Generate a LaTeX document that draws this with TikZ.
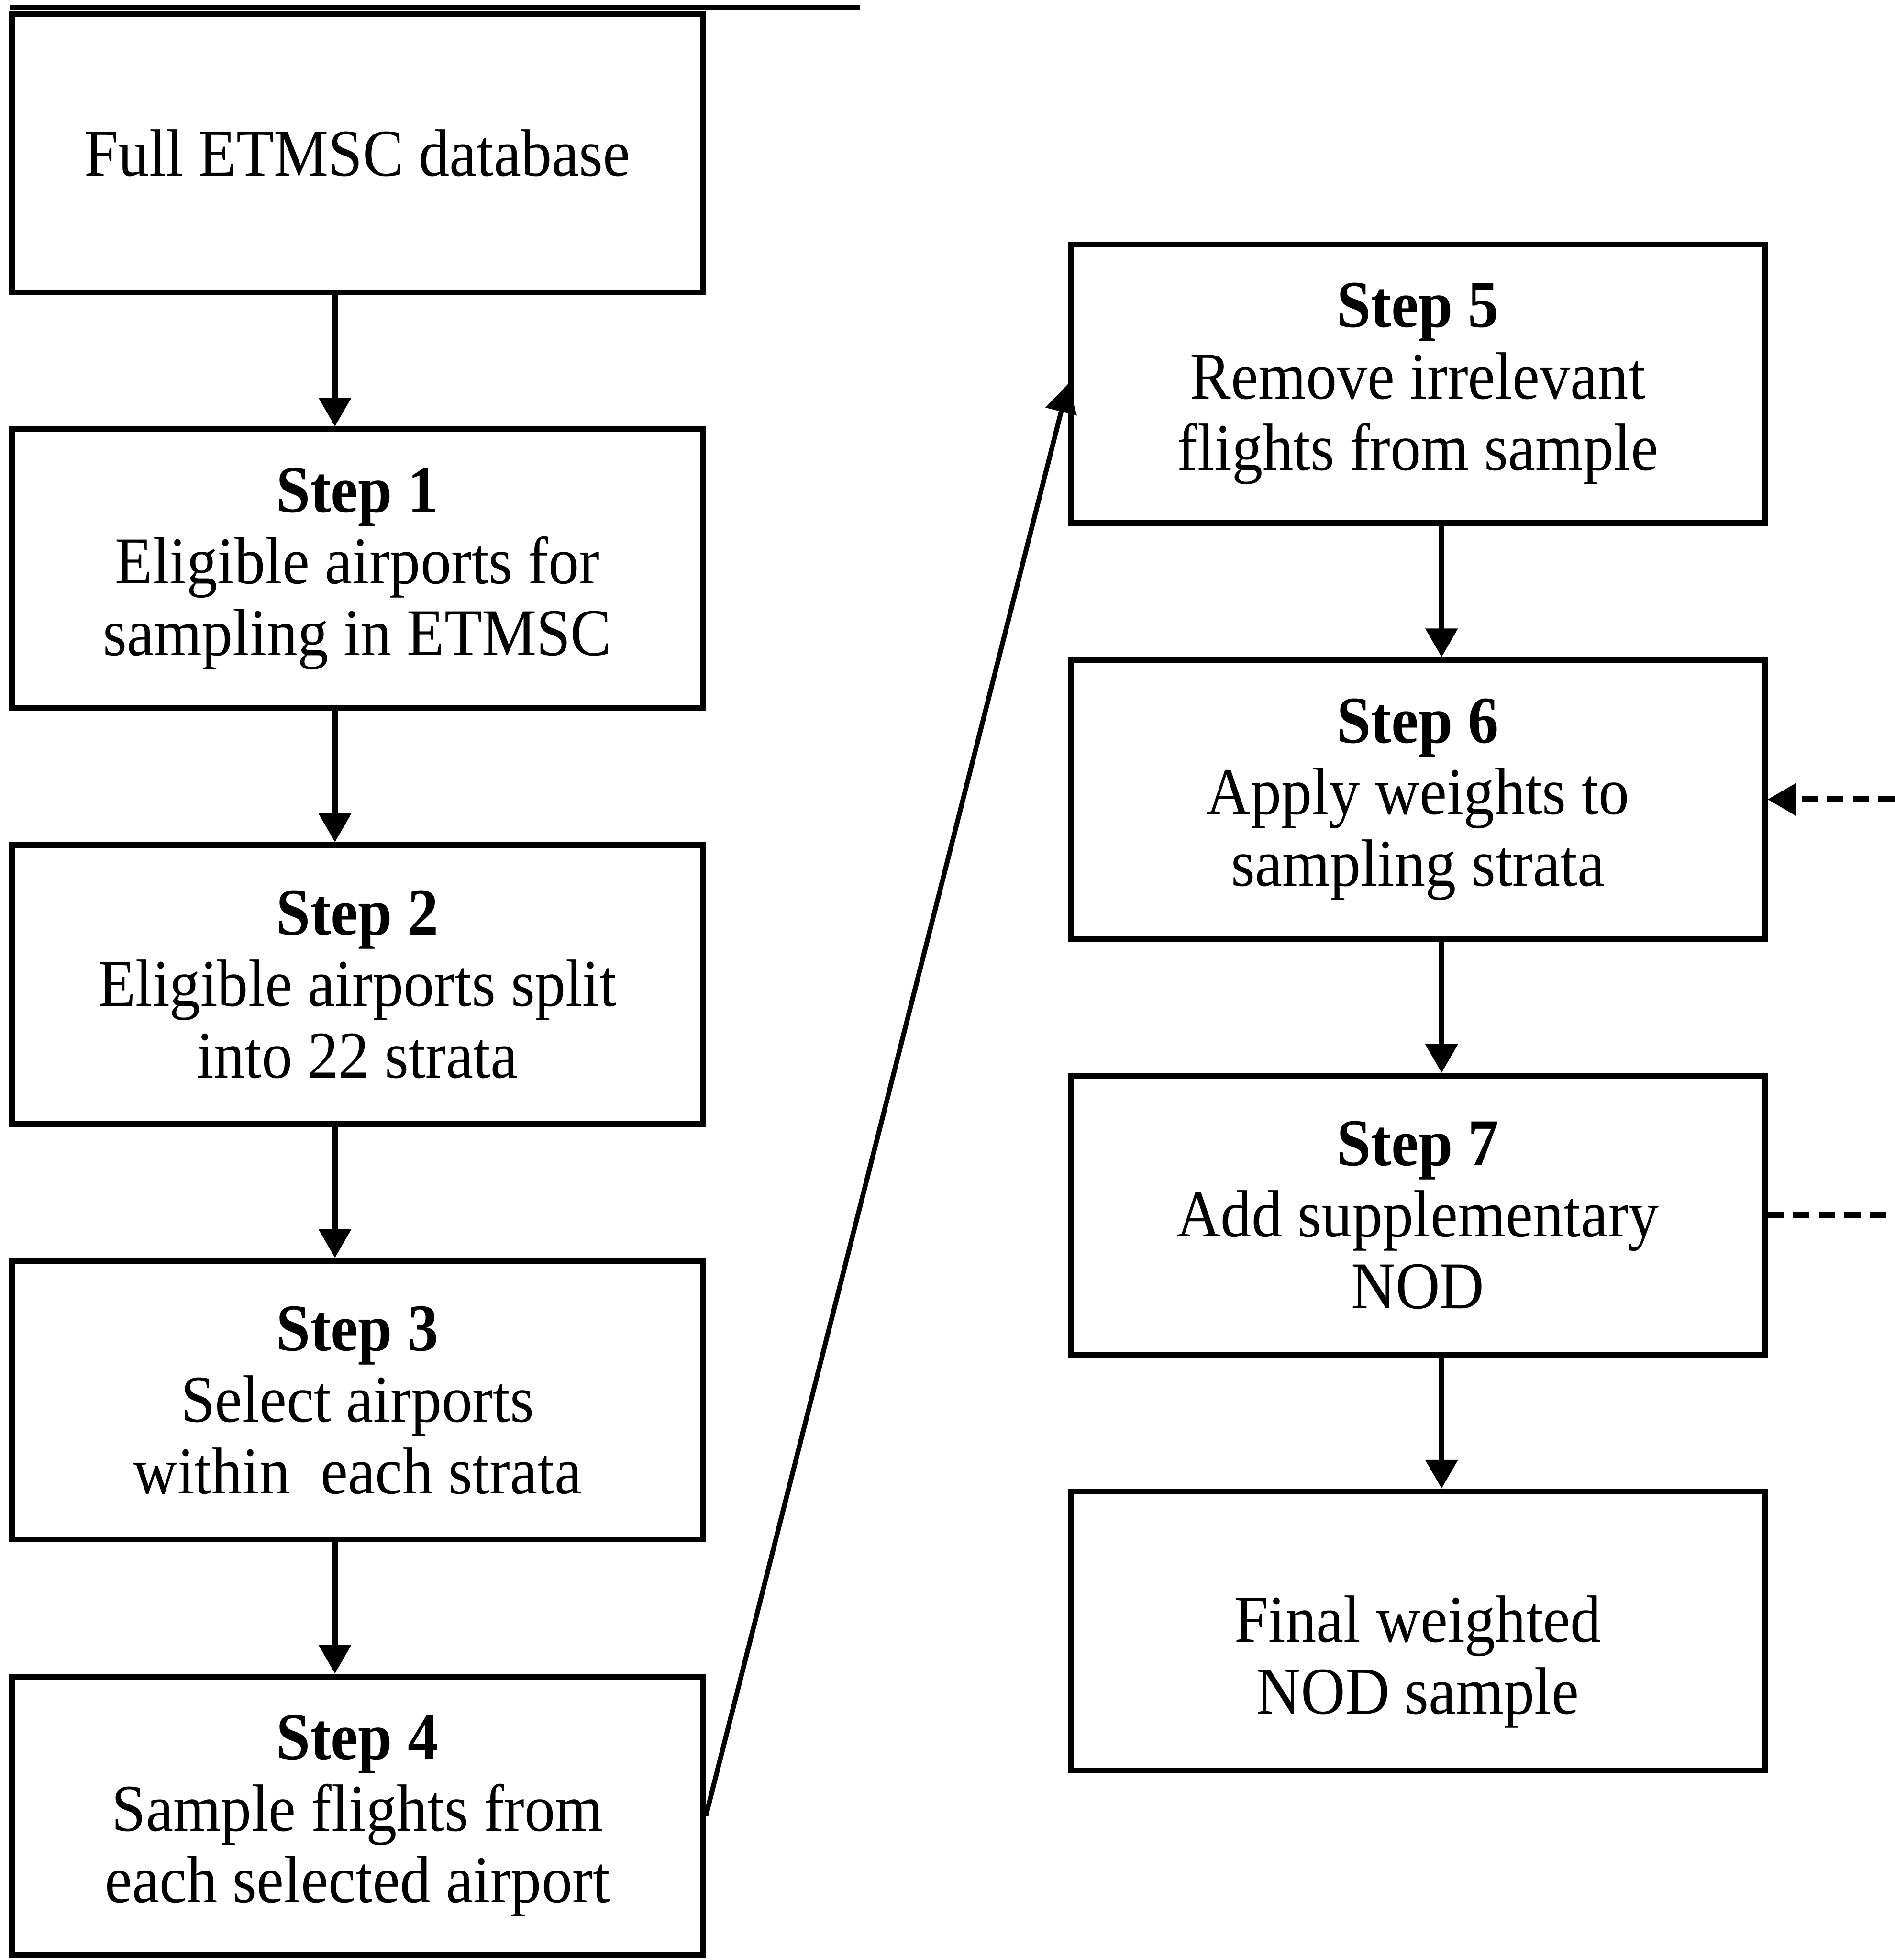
\documentclass[tikz,border=0pt]{standalone}
\usepackage{fontspec}
\setmainfont[FakeStretch=0.92]{Liberation Serif}
\usetikzlibrary{
	arrows.meta,
	positioning,
	calc
}

\begin{document}
\begin{tikzpicture}[
			box/.style={
				rectangle, draw, line width=1.3pt,
				minimum width=5.53cm, minimum height=2.23cm,
				align=center, inner sep=2pt,
				font=\fontsize{15.2}{16.3}\selectfont
			},
			arrow/.style={-{Triangle[length=2.3mm, width=2.5mm]}, line width=1.3pt},
			dashedarrow/.style={line width=1.4pt, dash pattern=on 1.3mm off 0.75mm}
			]
			\useasboundingbox (0,0) rectangle (15.16,15.68);
			
			% vertical gap between boxes of one column
			\def\gap{1.05cm}
			% arrows sit a bit off the box centres
			\def\lshift{-1.8mm}
			\def\rshift{1.9mm}
			
			% ---------------- cut-off caption line ----------------
			\coordinate (capL) at (0.08,15.62);
			\coordinate (capR) at (6.88,15.62);
			\draw[line width=1.2pt] (capL) -- (capR);
			
			% ---------------- left column ----------------
			\node[box] (full) at (2.86,14.455) {Full ETMSC database};
			
			\node[box, below=\gap of full] (step1) {\textbf{Step 1}\\Eligible airports for\\sampling in ETMSC};
			\draw[arrow] ([xshift=\lshift]full.south) -- ([xshift=\lshift]step1.north);
			
			\node[box, below=\gap of step1] (step2) {\textbf{Step 2}\\Eligible airports split\\into 22 strata};
			\draw[arrow] ([xshift=\lshift]step1.south) -- ([xshift=\lshift]step2.north);
			
			\node[box, below=\gap of step2] (step3) {\textbf{Step 3}\\Select airports\\within\ \ each strata};
			\draw[arrow] ([xshift=\lshift]step2.south) -- ([xshift=\lshift]step3.north);
			
			\node[box, below=\gap of step3] (step4) {\textbf{Step 4}\\Sample flights from\\each selected airport};
			\draw[arrow] ([xshift=\lshift]step3.south) -- ([xshift=\lshift]step4.north);
			
			% ---------------- right column ----------------
			\node[box, minimum width=5.55cm] (step5) at (11.345,12.61) {\textbf{Step 5}\\Remove irrelevant\\flights from sample};
			\draw[arrow, line width=1.1pt] (step4.east) -- (step5.west);
			
			\node[box, minimum width=5.55cm, below=\gap of step5] (step6) {\textbf{Step 6}\\Apply weights to\\sampling strata};
			\draw[arrow] ([xshift=\rshift]step5.south) -- ([xshift=\rshift]step6.north);
			
			\node[box, minimum width=5.55cm, below=\gap of step6] (step7) {\textbf{Step 7}\\Add supplementary\\NOD};
			\draw[arrow] ([xshift=\rshift]step6.south) -- ([xshift=\rshift]step7.north);
			
			% text of the last box sits a little low
			\node[box, minimum width=5.55cm, below=\gap of step7, text height=1.44cm] (final) {Final weighted\\NOD sample};
			\draw[arrow] ([xshift=\rshift]step7.south) -- ([xshift=\rshift]final.north);
			
			% ---------------- dashed links from the right ----------------
			\coordinate (in6) at (15.16,0 |- step6.east);
			\draw[dashedarrow, -{Triangle[length=2.3mm, width=2.5mm]}] (in6) -- (step6.east);
			
			\coordinate (out7) at (15.16,0 |- step7.east);
			\draw[dashedarrow] (step7.east) -- (out7);
		\end{tikzpicture}
\end{document}
